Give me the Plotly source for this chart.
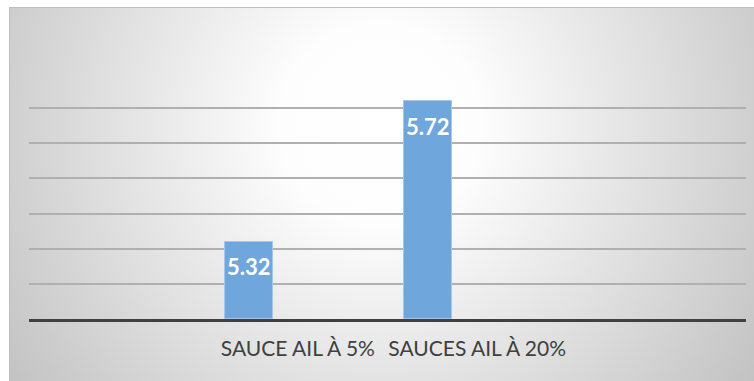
import base64
import plotly.graph_objects as go

# Data
categories = ["SAUCE AIL À 5%", "SAUCES AIL À 20%"]
values = [5.32, 5.72]

# Axis settings
y_min, y_max, y_step = 5.1, 5.8, 0.1
x_range = [-1.5, 2.5]
bar_offset = -0.407
bar_width = 0.268

W, H = 754, 381
margin = dict(l=29, r=8, t=73, b=62)
plot_w = W - margin["l"] - margin["r"]
plot_h = H - margin["t"] - margin["b"]

# Radial grey background panel as an SVG image
panel_left, panel_top = 9, 7
panel_w, panel_h = W - panel_left, H - panel_top
svg = f"""<svg xmlns='http://www.w3.org/2000/svg' width='{panel_w}' height='{panel_h}' viewBox='0 0 {panel_w} {panel_h}' preserveAspectRatio='none'>
<defs><radialGradient id='g' gradientUnits='userSpaceOnUse' cx='371' cy='118' r='455'>
<stop offset='0' stop-color='#ffffff'/>
<stop offset='0.22' stop-color='#fdfdfd'/>
<stop offset='1' stop-color='#c2c2c2'/>
</radialGradient></defs>
<rect x='0.5' y='0.5' width='{panel_w}' height='{panel_h}' fill='url(#g)' stroke='#bdbdbd' stroke-width='1'/>
</svg>"""
svg_uri = "data:image/svg+xml;base64," + base64.b64encode(svg.encode()).decode()

px_to_paper_x = lambda px: (px - margin["l"]) / plot_w
px_to_paper_y = lambda py: (H - margin["b"] - py) / plot_h

fig = go.Figure()
fig.add_trace(go.Bar(
    x=categories,
    y=[v - y_min for v in values],
    base=y_min,
    offset=bar_offset,
    width=bar_width,
    marker=dict(color="#6fa6db", line=dict(color="#a3c6e9", width=1)),
    hoverinfo="skip",
))

# Value labels inside the top of each bar
for i, v in enumerate(values):
    fig.add_annotation(
        x=i + bar_offset + bar_width / 2, y=v,
        text=f"<b>{v:.2f}</b>", showarrow=False,
        yshift=-25, yanchor="middle", xanchor="center",
        font=dict(family="Lato", size=22, color="#ffffff"),
    )

fig.add_layout_image(
    source=svg_uri, xref="paper", yref="paper",
    x=px_to_paper_x(panel_left), y=px_to_paper_y(panel_top),
    sizex=panel_w / plot_w, sizey=panel_h / plot_h,
    xanchor="left", yanchor="top", sizing="stretch", layer="below",
)

fig.update_layout(
    width=W, height=H, margin=margin,
    paper_bgcolor="#ffffff", plot_bgcolor="rgba(0,0,0,0)",
    showlegend=False, bargap=0,
)
fig.update_xaxes(
    type="category", range=x_range, showgrid=False, zeroline=False,
    showline=True, linecolor="#404040", linewidth=3, ticks="",
    ticklabelstandoff=9,
    tickfont=dict(family="Lato", size=21, color="#404040"),
    fixedrange=True,
)
fig.update_yaxes(
    range=[y_min, y_max], dtick=y_step, tick0=y_min, showticklabels=False,
    showgrid=True, gridcolor="#b0b0b0", gridwidth=1.5, zeroline=False,
    showline=False, fixedrange=True,
)

fig.write_html("out.html")
